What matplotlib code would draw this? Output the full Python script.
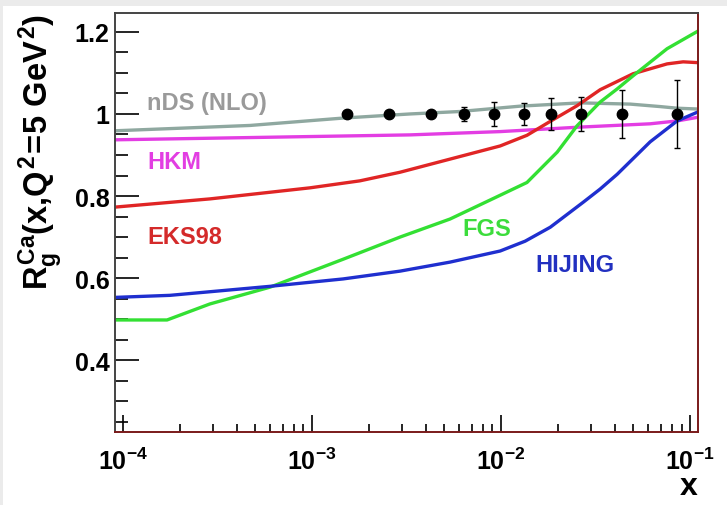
import numpy as np
import matplotlib
matplotlib.use("Agg")
from matplotlib import pyplot as plt
from matplotlib.ticker import MultipleLocator, LogLocator, LogFormatterMathtext, NullFormatter
from matplotlib.patches import Rectangle

plt.rcParams['font.family'] = ['Liberation Sans', 'DejaVu Sans']
plt.rcParams['font.weight'] = 'bold'
plt.rcParams['mathtext.fontset'] = 'custom'
plt.rcParams['mathtext.rm'] = 'Liberation Sans:bold'
plt.rcParams['mathtext.it'] = 'Liberation Sans:bold'
plt.rcParams['mathtext.bf'] = 'Liberation Sans:bold'

# curves
nds_x = [9.07e-5, 4.7e-4, 1.46e-3, 3.3e-3, 6.07e-3, 1.26e-2, 2.62e-2, 4.82e-2, 6.93e-2, 8.53e-2, 0.110]
nds_y = [0.959, 0.972, 0.990, 1.000, 1.006, 1.019, 1.027, 1.024, 1.018, 1.014, 1.012]

hkm_x = [9.07e-5, 3.3e-3, 9.88e-3, 2.62e-2, 6.14e-2, 8.53e-2, 0.110]
hkm_y = [0.937, 0.949, 0.957, 0.968, 0.976, 0.983, 0.992]

eks_x = [9.07e-5, 2.88e-4, 9.76e-4, 1.79e-3, 2.92e-3, 5.37e-3, 9.88e-3, 1.37e-2, 1.82e-2,
         2.52e-2, 3.34e-2, 4.99e-2, 7.55e-2, 9.18e-2, 0.110]
eks_y = [0.773, 0.793, 0.820, 0.837, 0.858, 0.890, 0.922, 0.948, 0.982,
         1.020, 1.059, 1.098, 1.122, 1.127, 1.125]

fgs_x = [9.07e-5, 1.71e-4, 2.88e-4, 6.0e-4, 1.46e-3, 2.92e-3, 5.37e-3, 9.0e-3, 1.37e-2,
         1.98e-2, 2.52e-2, 3.34e-2, 4.11e-2, 4.99e-2, 7.55e-2, 0.110]
fgs_y = [0.498, 0.498, 0.537, 0.578, 0.646, 0.700, 0.744, 0.793, 0.833,
         0.907, 0.971, 1.029, 1.061, 1.093, 1.159, 1.202]

hij_x = [9.07e-5, 1.77e-4, 6.0e-4, 1.46e-3, 2.92e-3, 5.37e-3, 9.88e-3, 1.34e-2, 1.82e-2, 2.72e-2,
         3.34e-2, 4.11e-2, 6.14e-2, 8.53e-2, 0.110]
hij_y = [0.553, 0.558, 0.580, 0.598, 0.617, 0.639, 0.666, 0.690, 0.724, 0.785,
         0.817, 0.853, 0.932, 0.983, 1.005]

# data points
pt_x = [1.53e-3, 2.55e-3, 4.26e-3, 6.37e-3, 9.18e-3, 1.32e-2, 1.84e-2, 2.65e-2, 4.37e-2, 8.53e-2]
pt_y = [1.0] * 10
pt_err = [0.0, 0.0, 0.0, 0.018, 0.03, 0.027, 0.04, 0.042, 0.059, 0.083]

labels = ['nDS (NLO)', 'HKM', 'EKS98', 'FGS', 'HIJING']
label_x = [1.34e-4, 1.34e-4, 1.34e-4, 6.22e-3, 1.51e-2]
label_y = [1.027, 0.883, 0.702, 0.722, 0.632]
label_col = ['#9a9a9a', '#e23ee2', '#d42a2a', '#3cdc3c', '#2230c0']

fig = plt.figure(figsize=(7.27, 5.06), dpi=100)
fig.patch.set_facecolor('#ebebeb')
fig.patches.append(Rectangle((3 / 727, 0), 1, 499 / 506, transform=fig.transFigure,
                             facecolor='white', edgecolor='none', zorder=-10))
ax = fig.add_axes([115 / 727, 73 / 506, 583 / 727, 419 / 506])

lw = 2.4
ax.plot(nds_x, nds_y, color='#8fa8a0', lw=lw)
ax.plot(hkm_x, hkm_y, color='#e33de3', lw=lw)
ax.plot(eks_x, eks_y, color='#e02525', lw=lw)
ax.plot(fgs_x, fgs_y, color='#33e033', lw=lw)
ax.plot(hij_x, hij_y, color='#1f2fcf', lw=lw)
ax.errorbar(pt_x, pt_y, yerr=pt_err, fmt='o', color='black', ms=7.5, elinewidth=1,
            capsize=2.5, capthick=1, zorder=5)

for t, x, y, c in zip(labels, label_x, label_y, label_col):
    ax.text(x, y, t, color=c, fontsize=17, fontweight='bold', va='center', ha='left')

ax.set_xscale('log')
ax.set_xlim(9.07e-5, 0.110)
ax.set_ylim(0.225, 1.246)

ax.set_yticks([0.4, 0.6, 0.8, 1.0, 1.2])
ax.set_yticklabels(['0.4', '0.6', '0.8', '1', '1.2'])
ax.yaxis.set_minor_locator(MultipleLocator(0.05))
ax.xaxis.set_major_locator(LogLocator(base=10))
ax.xaxis.set_minor_locator(LogLocator(base=10, subs=np.arange(2, 10)))
ax.xaxis.set_major_formatter(LogFormatterMathtext())
ax.xaxis.set_minor_formatter(NullFormatter())

ax.tick_params(which='both', direction='in', top=False, right=False, width=1.2, labelsize=18)
ax.tick_params(axis='y', which='major', length=17, pad=4)
ax.tick_params(axis='y', which='minor', length=9)
ax.tick_params(axis='x', which='major', length=12, pad=11)
ax.tick_params(axis='x', which='minor', length=6)

for s in ['top', 'left']:
    ax.spines[s].set_color('#444444')
for s in ['right', 'bottom']:
    ax.spines[s].set_color('#7a1a1a')
for s in ax.spines.values():
    s.set_linewidth(1.4)

ax.set_ylabel(r'$R_g^{Ca}(x{,}Q^2\!=\!5\ GeV^2)$', fontsize=23.5, loc='top', labelpad=7)
ax.set_xlabel('x', fontsize=23, fontweight='bold', loc='right', labelpad=-2)

fig.savefig('out.png', dpi=100, facecolor=fig.get_facecolor())
